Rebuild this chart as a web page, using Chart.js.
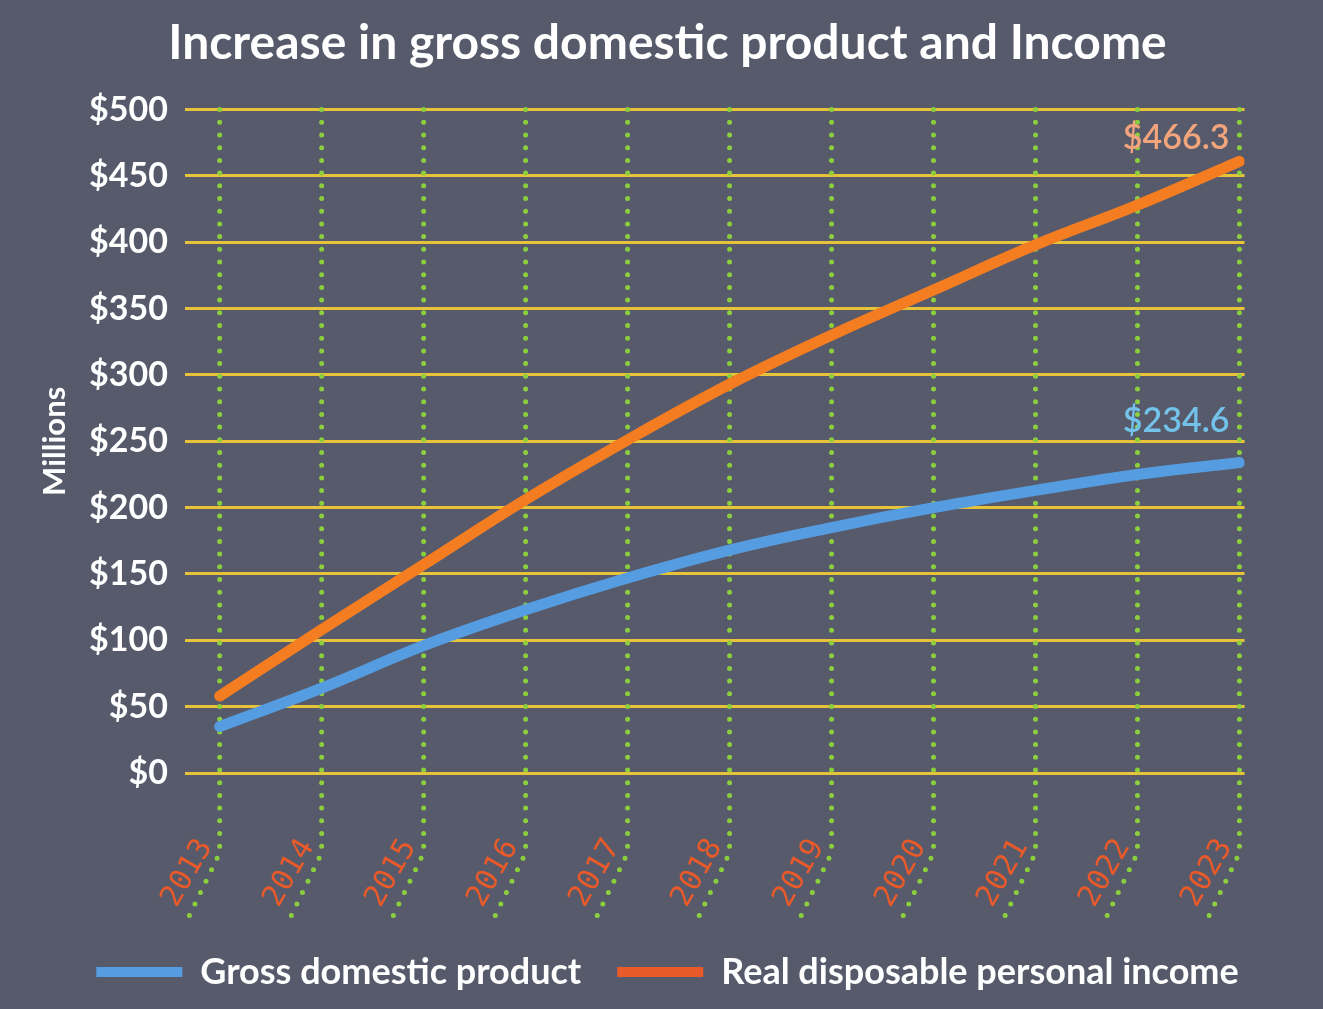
<!DOCTYPE html>
<html>
<head>
<meta charset="utf-8">
<script src="https://cdn.jsdelivr.net/npm/chart.js@4"></script>
<style>
  html, body { margin: 0; padding: 0; background: #565a6b; }
  #wrap { width: 1323px; height: 1009px; position: relative; }
</style>
</head>
<body>
<div id="wrap"><canvas id="chart"></canvas></div>
<script>
/* ----- dados ----- */
const years = [2013, 2014, 2015, 2016, 2017, 2018, 2019, 2020, 2021, 2022, 2023];
const gdp = [35, 64, 96, 123, 147, 168, 185, 200, 213, 225, 234];
const income = [58, 108, 157, 206, 251, 293, 330, 364, 398, 428, 461];
const seriesNames = ['Gross domestic product', 'Real disposable personal income'];
const endLabels = ['$234.6', '$466.3'];
const yTicks = [0, 50, 100, 150, 200, 250, 300, 350, 400, 450, 500];

/* ----- cores ----- */
const BG = '#565a6b';
const lineColors = ['#559de0', '#f47d22'];
const legendColors = ['#559de0', '#e85a2a'];
const labelColors = ['#72c2ea', '#f2a47c'];
const GOLD = '#e7c33a';
const GREEN = '#8ccf3e';

const toPoints = arr => arr.map((v, i) => ({ x: years[i], y: v }));

/* fundo do canvas */
const bgPlugin = {
  id: 'bg',
  beforeDraw(chart) {
    const c = chart.ctx;
    c.save();
    c.fillStyle = BG;
    c.fillRect(0, 0, chart.width, chart.height);
    c.restore();
  }
};

/* linhas pontilhadas verdes (descem e entortam por baixo do eixo) */
const dotGrid = {
  id: 'dotGrid',
  beforeDatasetsDraw(chart) {
    const c = chart.ctx;
    const xs = chart.scales.x;
    const top = chart.chartArea.top;
    const bottom = chart.chartArea.bottom;
    c.save();
    c.strokeStyle = GREEN;
    c.lineWidth = 5;
    c.lineCap = 'round';
    c.setLineDash([0, 12.7]);
    years.forEach(yr => {
      const x = xs.getPixelForValue(yr);
      c.beginPath();
      c.moveTo(x, top);
      c.lineTo(x, bottom + 80);
      c.lineTo(x - 33, bottom + 148);
      c.stroke();
    });
    c.restore();
  }
};

/* valores no fim das linhas */
const endValues = {
  id: 'endValues',
  afterDatasetsDraw(chart) {
    const c = chart.ctx;
    c.save();
    c.font = '600 34px Lato';
    c.textAlign = 'right';
    c.textBaseline = 'middle';
    chart.data.datasets.forEach((ds, i) => {
      const pts = chart.getDatasetMeta(i).data;
      const p = pts[pts.length - 1];
      c.fillStyle = labelColors[i];
      const dy = i === 0 ? -41 : -23;
      c.fillText(endLabels[i], p.x - 10, p.y + dy);
    });
    c.restore();
  }
};

new Chart(document.getElementById('chart'), {
  type: 'line',
  data: {
    datasets: [
      {
        label: seriesNames[0],
        data: toPoints(gdp),
        borderColor: lineColors[0],
        backgroundColor: legendColors[0],
        borderWidth: 11,
        borderCapStyle: 'round',
        pointRadius: 0,
        tension: 0.4
      },
      {
        label: seriesNames[1],
        data: toPoints(income),
        borderColor: lineColors[1],
        backgroundColor: legendColors[1],
        borderWidth: 11,
        borderCapStyle: 'round',
        pointRadius: 0,
        tension: 0.4
      }
    ]
  },
  options: {
    responsive: true,
    maintainAspectRatio: false,
    animation: false,
    layout: { padding: { left: 12, right: 0, top: 0, bottom: 9 } },
    plugins: {
      title: {
        display: true,
        text: 'Increase in gross domestic product and Income',
        color: '#ffffff',
        font: { family: 'Lato', size: 48, weight: 'bold' },
        padding: { top: 15, bottom: 37 }
      },
      legend: {
        position: 'bottom',
        labels: {
          color: '#ffffff',
          font: { family: 'Lato', size: 36, weight: 'bold' },
          boxWidth: 86,
          boxHeight: 10,
          padding: 36,
          generateLabels: chart => chart.data.datasets.map((ds, i) => ({
            text: ds.label,
            fillStyle: legendColors[i],
            strokeStyle: legendColors[i],
            lineWidth: 0,
            fontColor: '#ffffff',
            datasetIndex: i
          }))
        }
      },
      tooltip: { enabled: false }
    },
    scales: {
      x: {
        type: 'linear',
        min: 2012.66,
        max: 2023.05,
        afterBuildTicks: scale => { scale.ticks = years.map(v => ({ value: v })); },
        afterFit: scale => { scale.height = 145; },
        grid: { display: false },
        border: { display: false },
        ticks: {
          color: '#e85a2a',
          font: { family: 'DejaVu Sans Mono', size: 30, weight: 'normal' },
          minRotation: 60,
          maxRotation: 60,
          autoSkip: false,
          padding: 52,
          labelOffset: -14,
          callback: v => String(v)
        }
      },
      y: {
        min: 0,
        max: 500,
        afterBuildTicks: scale => { scale.ticks = yTicks.map(v => ({ value: v })); },
        afterFit: scale => { scale.width = 173; },
        grid: { color: GOLD, lineWidth: 3, drawTicks: false },
        border: { display: false },
        ticks: {
          color: '#ffffff',
          font: { family: 'Lato', size: 34, weight: 'bold' },
          padding: 17,
          callback: v => '$' + v
        },
        title: {
          display: true,
          text: 'Millions',
          color: '#ffffff',
          font: { family: 'Lato', size: 31, weight: 'bold' },
          padding: { top: 24, bottom: 0 }
        }
      },
      /* eixo vazio à direita só para reservar a margem */
      yRight: {
        position: 'right',
        display: true,
        min: 0,
        max: 500,
        afterFit: scale => { scale.width = 78; },
        grid: { display: false },
        border: { display: false },
        ticks: { display: false }
      }
    }
  },
  plugins: [bgPlugin, dotGrid, endValues]
});
</script>
</body>
</html>
